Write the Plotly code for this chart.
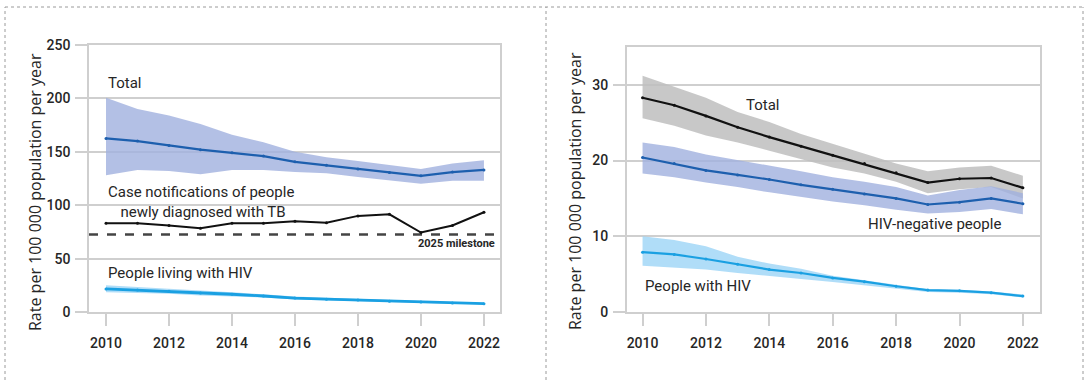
import plotly.graph_objects as go

years = list(range(2010, 2023))

# Left panel: TB incidence (rate per 100 000 per year)
total_l = [162.5, 160, 156, 152, 149, 146, 140.6, 137.5, 134, 130.6, 127.5, 131, 133]
total_l_hi = [200.6, 190, 184, 176, 166, 159, 150, 145, 141.5, 137.5, 134, 139, 142]
total_l_lo = [128, 133, 132, 129, 133, 133, 131, 130, 126.5, 123, 120, 123, 123]
notif = [83, 83, 81, 78.5, 83, 83, 85, 83.5, 90, 91.5, 74.4, 81, 93.4]
milestone = 72.5
hiv_l = [21.6, 20.5, 19.4, 17.8, 16.6, 15, 13, 12, 11.25, 10, 9.4, 8.5, 7.8]
hiv_l_hi = [25, 23.5, 22, 20.3, 18.6, 16.6, 14.5, 13.3, 12.3, 11, 10.2, 9.2, 8.4]
hiv_l_lo = [18.5, 18, 17, 15.5, 14.6, 13.5, 11.8, 10.9, 10.2, 9.1, 8.6, 7.8, 7.2]

# Right panel: TB mortality
total_r = [28.3, 27.3, 25.9, 24.4, 23.1, 21.9, 20.7, 19.6, 18.4, 17.1, 17.6, 17.7, 16.4]
total_r_hi = [31.2, 29.7, 28.3, 26.4, 25.1, 23.5, 22.2, 20.9, 19.6, 18.6, 19.1, 19.3, 18.0]
total_r_lo = [25.6, 24.6, 23.3, 22.4, 21.3, 20.2, 19.1, 18.3, 17.2, 15.7, 16.2, 16.5, 15.0]
neg_r = [20.4, 19.6, 18.7, 18.1, 17.5, 16.8, 16.2, 15.6, 15.0, 14.2, 14.5, 15.0, 14.3]
neg_r_hi = [22.4, 21.8, 20.8, 20.1, 19.4, 18.6, 17.8, 17.2, 16.5, 15.4, 16.1, 16.6, 15.7]
neg_r_lo = [18.3, 17.8, 17.1, 16.5, 15.8, 15.2, 14.6, 14.1, 13.5, 13.0, 13.2, 13.6, 12.9]
hiv_r = [7.9, 7.6, 7.0, 6.3, 5.6, 5.15, 4.5, 4.0, 3.4, 2.9, 2.8, 2.55, 2.1]
hiv_r_hi = [10.0, 9.5, 8.7, 7.3, 6.4, 5.7, 4.8, 4.2, 3.6, 3.0, 2.95, 2.7, 2.3]
hiv_r_lo = [6.1, 5.9, 5.6, 5.15, 4.7, 4.35, 3.95, 3.5, 3.1, 2.65, 2.55, 2.35, 1.9]

y_ticks_l = [0, 50, 100, 150, 200, 250]
y_ticks_r = [0, 10, 20, 30]
x_ticks = [2010, 2012, 2014, 2016, 2018, 2020, 2022]
y_title = "Rate per 100 000 population per year"

FONT = "Roboto"
TXT = "#262626"
BLUE_BAND = "rgba(160,176,222,0.8)"
BLUE_LINE = "#1d5fae"
GRAY_BAND = "rgba(190,190,190,0.85)"
BLACK = "#111111"
LB_BAND = "rgba(150,210,245,0.75)"
LB_LINE = "#1aa0e2"

fig = go.Figure()


def band(xa, ya, hi, lo, color):
    fig.add_trace(go.Scatter(x=years, y=hi, mode="lines", line=dict(width=0),
                             xaxis=xa, yaxis=ya, hoverinfo="skip", showlegend=False))
    fig.add_trace(go.Scatter(x=years, y=lo, mode="lines", line=dict(width=0),
                             fill="tonexty", fillcolor=color,
                             xaxis=xa, yaxis=ya, hoverinfo="skip", showlegend=False))


def line(xa, ya, vals, color, width=2.2):
    fig.add_trace(go.Scatter(x=years, y=vals, mode="lines+markers",
                             line=dict(color=color, width=width),
                             marker=dict(size=3, color=color),
                             xaxis=xa, yaxis=ya, showlegend=False))


# Left
band("x", "y", total_l_hi, total_l_lo, BLUE_BAND)
band("x", "y", hiv_l_hi, hiv_l_lo, LB_BAND)
fig.add_trace(go.Scatter(x=[2009.46, 2022.51], y=[milestone, milestone], mode="lines",
                         line=dict(color="#444444", width=2.6, dash="dash"),
                         xaxis="x", yaxis="y", showlegend=False))
line("x", "y", total_l, BLUE_LINE)
line("x", "y", notif, BLACK, 2)
line("x", "y", hiv_l, LB_LINE, 2.8)

# Right
band("x2", "y2", total_r_hi, total_r_lo, GRAY_BAND)
band("x2", "y2", neg_r_hi, neg_r_lo, BLUE_BAND)
band("x2", "y2", hiv_r_hi, hiv_r_lo, LB_BAND)
line("x2", "y2", total_r, BLACK)
line("x2", "y2", neg_r, BLUE_LINE)
line("x2", "y2", hiv_r, LB_LINE)

W, H = 1091, 380
GRID = "#cfcfcf"

axis_common = dict(showline=True, mirror=True, linecolor=GRID, linewidth=1.5,
                   ticks="outside", tickcolor=GRID, ticklen=12, tickwidth=1.5,
                   tickfont=dict(family=FONT, size=14, color=TXT, weight=500),
                   zeroline=False, fixedrange=True, automargin=False)

fig.update_layout(
    width=W, height=H,
    margin=dict(l=0, r=0, t=0, b=0),
    paper_bgcolor="white", plot_bgcolor="white",
    showlegend=False,
    xaxis=dict(domain=[89 / W, 500 / W], range=[2009.46, 2022.51], tickvals=x_ticks,
               anchor="y", showgrid=False, ticklabelstandoff=5, **axis_common),
    yaxis=dict(domain=[68 / H, 335 / H], range=[0, 250], tickvals=y_ticks_l,
               showgrid=True, gridcolor=GRID, gridwidth=1.5, anchor="x", ticklabelstandoff=2,
               **axis_common),
    xaxis2=dict(domain=[626.7 / W, 1040 / W], range=[2009.5, 2022.54], tickvals=x_ticks,
                anchor="y2", showgrid=False, ticklabelstandoff=5, **axis_common),
    yaxis2=dict(domain=[68 / H, 333 / H], range=[0, 35], tickvals=y_ticks_r,
                showgrid=True, gridcolor=GRID, gridwidth=1.5, anchor="x2", ticklabelstandoff=2,
                **axis_common),
)

# Panel dotted borders
dot = dict(color="#9a9a9a", width=1, dash="dot")
fig.add_shape(type="line", xref="paper", yref="paper", x0=5 / W, x1=1083 / W,
              y0=1 - 7 / H, y1=1 - 7 / H, line=dot)
for px in (5, 546, 1083):
    fig.add_shape(type="line", xref="paper", yref="paper", x0=px / W, x1=px / W,
                  y0=0, y1=1 - 7 / H, line=dot)

# Rotated y-axis titles
for px, py in ((35, 192), (575, 191)):
    fig.add_annotation(x=px / W, y=1 - py / H, xref="paper", yref="paper", text=y_title,
                       textangle=-90, showarrow=False, xanchor="center", yanchor="middle",
                       font=dict(family="Open Sans", size=16, color=TXT))

af = dict(family=FONT, size=15, color=TXT)
ann = [
    dict(x=2010, y=214, xref="x", yref="y", text="Total", xanchor="left"),
    dict(x=2010, y=103, xref="x", yref="y",
         text="Case notifications of people<br> newly diagnosed with TB", xanchor="left", align="center"),
    dict(x=2022.4, y=64, xref="x", yref="y", text="<b>2025 milestone</b>", xanchor="right",
         font=dict(family=FONT, size=11, color=TXT)),
    dict(x=2010, y=36.5, xref="x", yref="y", text="People living with HIV", xanchor="left"),
    dict(x=2013.8, y=27.4, xref="x2", yref="y2", text="Total", xanchor="center"),
    dict(x=2019.2, y=11.6, xref="x2", yref="y2", text="HIV-negative people", xanchor="center"),
    dict(x=2010, y=3.4, xref="x2", yref="y2", text="People with HIV", xanchor="left"),
]
for a in ann:
    a.setdefault("font", af)
    a["showarrow"] = False
    a["yanchor"] = "middle"
    fig.add_annotation(**a)

fig.write_html("out.html")
